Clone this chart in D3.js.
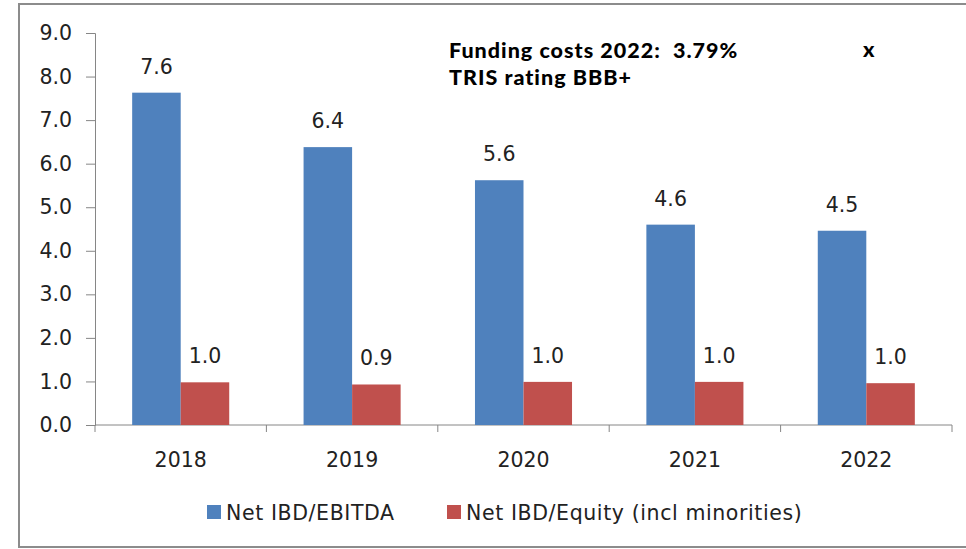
<!DOCTYPE html>
<html>
<head>
<meta charset="utf-8">
<script src="https://cdn.jsdelivr.net/npm/d3@7"></script>
<style>
  body { margin: 0; background: #fff; }
  svg { display: block; }
  .lbl { font-family: "DejaVu Sans", sans-serif; font-size: 20.5px; fill: #222; }
  .leg { letter-spacing: 0.6px; }
  .note { font-family: Lato, sans-serif; font-weight: 900; font-size: 21.5px; fill: #000;
          letter-spacing: 1px; white-space: pre; }
</style>
</head>
<body>
<div id="chart"></div>
<script>
// chart values
var years = ["2018", "2019", "2020", "2021", "2022"];
var seriesNames = ["Net IBD/EBITDA", "Net IBD/Equity (incl minorities)"];
var ebitda = [7.63, 6.38, 5.62, 4.6, 4.46];
var equity = [0.98, 0.93, 0.99, 0.99, 0.96];
var colors = ["#4f81bd", "#c0504d"];
var yTicks = [0, 1, 2, 3, 4, 5, 6, 7, 8, 9];
var notes = ["Funding costs 2022:  3.79%", "TRIS rating BBB+"];

var W = 966, H = 549;
var margin = {top: 33, right: 14, bottom: 124, left: 95},
    width = W - margin.left - margin.right,
    height = H - margin.top - margin.bottom;

var svg = d3.select("#chart").append("svg")
    .attr("width", W)
    .attr("height", H);

// outer frame of the chart area
svg.append("rect")
    .attr("x", 19).attr("y", 4)
    .attr("width", 980).attr("height", 543)
    .attr("fill", "none")
    .attr("stroke", "#8c8c8c")
    .attr("stroke-width", 2);

var g = svg.append("g")
    .attr("transform", "translate(" + margin.left + "," + margin.top + ")");

var x0 = d3.scaleBand().domain(years).range([0, width]).padding(0);
var x1 = d3.scaleBand().domain([0, 1]).range([0, x0.bandwidth()])
    .paddingInner(0).paddingOuter(0.766);
var y = d3.scaleLinear().domain([0, 9]).range([height, 0]);

var rows = years.map(function(yr, i) {
  return {year: yr, vals: [ebitda[i], equity[i]]};
});

// y axis
var yAxis = g.append("g")
    .call(d3.axisLeft(y).tickValues(yTicks).tickFormat(d3.format(".1f"))
      .tickSize(9).tickSizeOuter(9).tickPadding(14));
yAxis.select(".domain").attr("stroke", "#868686");
yAxis.selectAll(".tick line").attr("stroke", "#868686");
yAxis.selectAll("text").attr("class", "lbl").attr("fill", null);

// x axis line and ticks on band edges
g.append("line")
    .attr("x1", 0).attr("x2", width)
    .attr("y1", height).attr("y2", height)
    .attr("stroke", "#868686");
g.selectAll(".xtick")
    .data(years.map(function(d) { return x0(d); }).concat([width]))
    .enter().append("line")
    .attr("x1", d => d).attr("x2", d => d)
    .attr("y1", height).attr("y2", height + 7)
    .attr("stroke", "#868686");
g.selectAll(".xlab")
    .data(years)
    .enter().append("text")
    .attr("class", "lbl")
    .attr("x", d => x0(d) + x0.bandwidth() / 2)
    .attr("y", height + 42)
    .attr("text-anchor", "middle")
    .text(d => d);

// bars
var grp = g.selectAll(".grp")
    .data(rows)
    .enter().append("g")
    .attr("transform", d => "translate(" + x0(d.year) + ",0)");

grp.selectAll("rect")
    .data(d => d.vals)
    .enter().append("rect")
    .attr("x", (d, i) => x1(i))
    .attr("width", x1.bandwidth())
    .attr("y", d => y(d))
    .attr("height", d => height - y(d))
    .attr("fill", (d, i) => colors[i]);

grp.selectAll(".val")
    .data(d => d.vals)
    .enter().append("text")
    .attr("class", "lbl")
    .attr("x", (d, i) => x1(i) + x1.bandwidth() / 2)
    .attr("y", d => y(d) - 19)
    .attr("text-anchor", "middle")
    .text(d => d3.format(".1f")(d));

// legend
var leg = svg.append("g").attr("transform", "translate(207,505)");
var legX = [0, 240];
seriesNames.forEach(function(name, i) {
  leg.append("rect")
      .attr("x", legX[i]).attr("y", 0)
      .attr("width", 14).attr("height", 14)
      .attr("fill", colors[i]);
  leg.append("text")
      .attr("class", "lbl leg")
      .attr("x", legX[i] + 19).attr("y", 15)
      .text(name);
});

// annotation
svg.selectAll(".note")
    .data(notes)
    .enter().append("text")
    .attr("class", "note")
    .attr("x", 449)
    .attr("y", (d, i) => 58 + i * 27)
    .text(d => d);
svg.append("text").attr("class", "note")
    .attr("x", 863).attr("y", 57)
    .text("x");
</script>
</body>
</html>
